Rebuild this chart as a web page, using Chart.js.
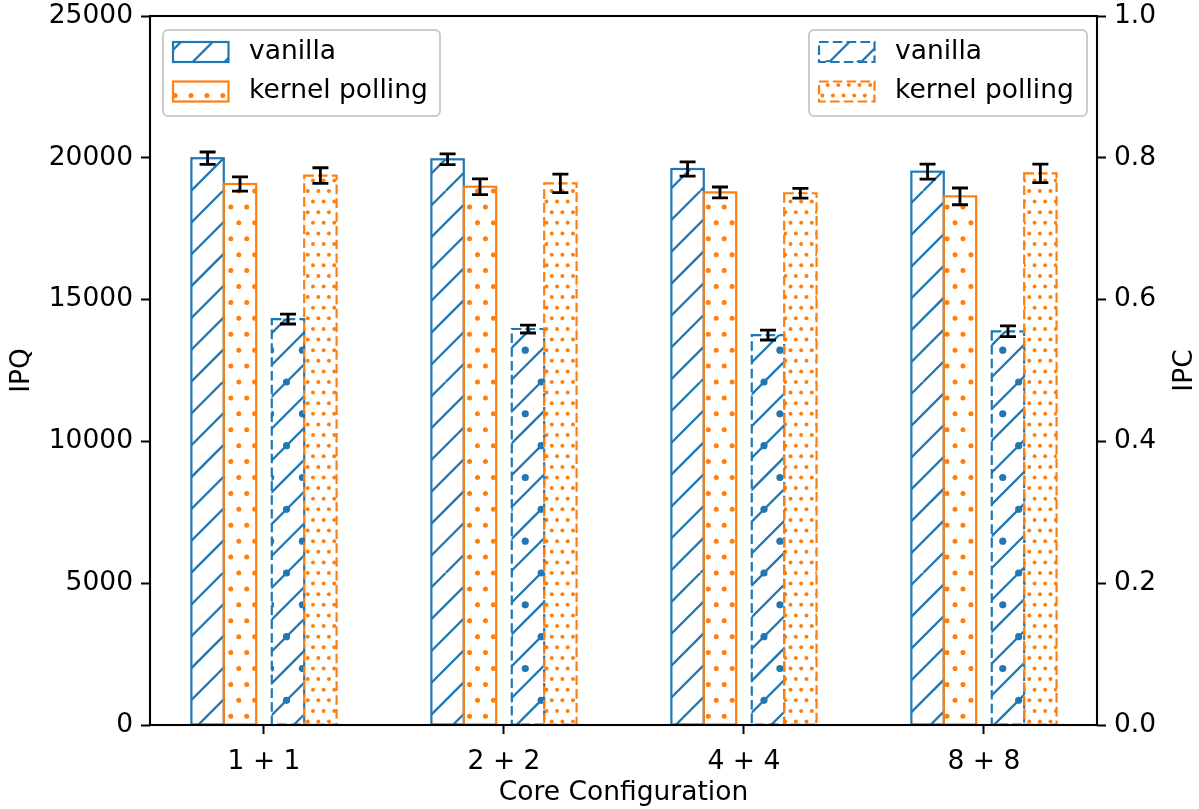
<!DOCTYPE html>
<html lang="en">
<head>
<meta charset="UTF-8">
<title>IPQ / IPC per core configuration</title>
<script src="https://cdn.jsdelivr.net/npm/chart.js"></script>
<style>
    body { margin: 0; background: #fff; }
    #wrap { width: 1199px; height: 809px; }
</style>
</head>
<body>
<div id="wrap"><canvas id="chart" width="1199" height="809"></canvas></div>
<script>
// data
const categories = ['1 + 1', '2 + 2', '4 + 4', '8 + 8'];
const ipqVanilla = [19985, 19947, 19605, 19510];
const ipqVanillaErr = [220, 190, 250, 265];
const ipqPolling = [19076, 18980, 18780, 18640];
const ipqPollingErr = [250, 280, 190, 295];
const ipcVanilla = [0.5726, 0.5585, 0.550, 0.5553];
const ipcVanillaErr = [0.007, 0.0056, 0.007, 0.0075];
const ipcPolling = [0.775, 0.764, 0.750, 0.778];
const ipcPollingErr = [0.011, 0.013, 0.007, 0.013];
const ipqTicks = [0, 5000, 10000, 15000, 20000, 25000];
const ipcTicks = [0, 0.2, 0.4, 0.6, 0.8, 1.0];
const legendLabels = ['vanilla', 'kernel polling'];

const BLUE = '#1f77b4';
const ORANGE = '#ff7f0e';
const FONT = { family: 'DejaVu Sans', size: 26.5 };
const W = 0.135; // bar width in category units

const canvas = document.getElementById('chart');
const ctx = canvas.getContext('2d');

// matplotlib-like hatch: one tile = one hatch unit (~1 inch at this dpi)
const U = 191;
function hatch(color, lines, dotRows, dotR) {
    const c = document.createElement('canvas');
    c.width = U; c.height = U;
    const g = c.getContext('2d');
    g.strokeStyle = color;
    g.fillStyle = color;
    g.lineWidth = 2.3;
    for (let k = -lines; k <= lines && lines; k++) {
        const x = k * U / lines;
        g.beginPath(); g.moveTo(x, U); g.lineTo(x + U, 0); g.stroke();
    }
    if (dotRows) {
        const s = U / dotRows;
        for (let r = 0; r <= dotRows; r++) {
            for (let k = -1; k <= dotRows + 1; k++) {
                const x = k * s + (r % 2 ? s / 2 : 0);
                g.beginPath(); g.arc(x, U - r * s, dotR, 0, Math.PI * 2); g.fill();
            }
        }
    }
    return ctx.createPattern(c, 'repeat');
}

const patVanilla = hatch(BLUE, 6, 0, 0);
const patPolling = hatch(ORANGE, 0, 12, 2.5);
const patVanillaIpc = hatch(BLUE, 6, 6, 3.6);
const patPollingIpc = hatch(ORANGE, 0, 18, 2.0);

const offsets = [-0.1 - W, -0.1, 0.1, 0.1 + W];
function pts(values, off) {
    return values.map((v, i) => ({ x: i + off, y: v }));
}

const series = [
    { vals: ipqVanilla, err: ipqVanillaErr, axis: 'y', color: BLUE, pat: patVanilla, dashed: false },
    { vals: ipqPolling, err: ipqPollingErr, axis: 'y', color: ORANGE, pat: patPolling, dashed: false },
    { vals: ipcVanilla, err: ipcVanillaErr, axis: 'y1', color: BLUE, pat: patVanillaIpc, dashed: true },
    { vals: ipcPolling, err: ipcPollingErr, axis: 'y1', color: ORANGE, pat: patPollingIpc, dashed: true }
];

const DASH = [9.6, 4.2];

// bar edges, error bars, frame, right axis title and the two legends
const decorations = {
    id: 'decorations',
    afterDatasetsDraw(chart) {
        const c = chart.ctx;
        const area = chart.chartArea;
        c.save();
        c.beginPath();
        c.rect(area.left, area.top, area.right - area.left, area.bottom - area.top);
        c.clip();
        series.forEach((s, di) => {
            const meta = chart.getDatasetMeta(di);
            meta.data.forEach(el => {
                c.strokeStyle = s.color;
                c.lineWidth = 2.2;
                c.setLineDash(s.dashed ? DASH : []);
                c.strokeRect(el.x - el.width / 2, el.y, el.width, el.base - el.y);
            });
        });
        c.setLineDash([]);
        series.forEach((s, di) => {
            const meta = chart.getDatasetMeta(di);
            const scale = chart.scales[s.axis];
            meta.data.forEach((el, i) => {
                const y1 = scale.getPixelForValue(s.vals[i] + s.err[i]);
                const y2 = scale.getPixelForValue(s.vals[i] - s.err[i]);
                c.strokeStyle = '#000';
                c.lineWidth = 2.8;
                c.beginPath();
                c.moveTo(el.x, y1); c.lineTo(el.x, y2);
                c.moveTo(el.x - 8, y1); c.lineTo(el.x + 8, y1);
                c.moveTo(el.x - 8, y2); c.lineTo(el.x + 8, y2);
                c.stroke();
            });
        });
        c.restore();

        c.save();
        c.strokeStyle = '#000';
        c.lineWidth = 2.1;
        c.strokeRect(area.left, area.top, area.right - area.left, area.bottom - area.top);
        // right axis title reads bottom-to-top like the left one
        c.translate(1185, (area.top + area.bottom) / 2);
        c.rotate(-Math.PI / 2);
        c.fillStyle = '#000';
        c.font = FONT.size + 'px "DejaVu Sans"';
        c.textAlign = 'center';
        c.textBaseline = 'middle';
        c.fillText('IPC', 0, 0);
        c.restore();

        drawLegend(c, 163, 30, 277, 86, [series[0], series[1]]);
        drawLegend(c, 809, 30, 278, 86, [series[2], series[3]]);
    }
};

function drawLegend(c, x, y, w, h, items) {
    c.save();
    c.beginPath();
    c.roundRect(x, y, w, h, 5);
    c.fillStyle = 'rgba(255,255,255,0.8)';
    c.fill();
    c.strokeStyle = '#cccccc';
    c.lineWidth = 2;
    c.stroke();
    items.forEach((s, i) => {
        const py = y + 12 + i * 39.5;
        c.fillStyle = '#fff';
        c.fillRect(x + 10, py, 55.5, 20);
        c.fillStyle = s.pat;
        c.fillRect(x + 10, py, 55.5, 20);
        c.strokeStyle = s.color;
        c.lineWidth = 2.2;
        c.setLineDash(s.dashed ? DASH : []);
        c.strokeRect(x + 10, py, 55.5, 20);
        c.setLineDash([]);
        c.fillStyle = '#000';
        c.font = FONT.size + 'px "DejaVu Sans"';
        c.textBaseline = 'middle';
        c.fillText(legendLabels[i], x + 86, py + 10);
    });
    c.restore();
}

// let the layout padding alone decide where the plot area starts
function fixVertical(width) {
    return s => {
        s.width = width;
        s.paddingTop = 0;
        s.paddingBottom = 0;
    };
}

new Chart(ctx, {
    type: 'bar',
    data: {
        datasets: series.map((s, di) => ({
            label: legendLabels[di % 2],
            data: pts(s.vals, offsets[di]),
            yAxisID: s.axis,
            backgroundColor: s.pat,
            borderWidth: 0,
            grouped: false,
            barThickness: 32.4
        }))
    },
    options: {
        responsive: false,
        animation: false,
        devicePixelRatio: 1,
        layout: { padding: { top: 16, left: 0, right: 0, bottom: 0 } },
        plugins: {
            legend: { display: false },
            tooltip: { enabled: false }
        },
        scales: {
            x: {
                type: 'linear',
                offset: false,
                min: -0.475,
                max: 3.471,
                afterBuildTicks: a => { a.ticks = categories.map((_, i) => ({ value: i })); },
                ticks: {
                    callback: v => categories[v],
                    font: FONT, color: '#000', padding: 12,
                    maxRotation: 0, autoSkip: false
                },
                grid: { offset: false, drawOnChartArea: false, tickLength: 9, tickWidth: 2, tickColor: '#000' },
                border: { display: false },
                title: { display: true, text: 'Core Configuration', font: FONT, color: '#000', padding: { top: 0, bottom: 0 } },
                afterFit: s => { s.height = 84; s.paddingLeft = 0; s.paddingRight = 0; }
            },
            y: {
                position: 'left',
                min: 0, max: 25000,
                afterBuildTicks: a => { a.ticks = ipqTicks.map(v => ({ value: v })); },
                ticks: { callback: v => String(v), font: FONT, color: '#000', padding: 8 },
                grid: { drawOnChartArea: false, tickLength: 9, tickWidth: 2, tickColor: '#000' },
                border: { display: false },
                title: { display: true, text: 'IPQ', font: FONT, color: '#000', padding: { top: 6, bottom: 0 } },
                afterFit: fixVertical(150)
            },
            y1: {
                position: 'right',
                min: 0, max: 1,
                afterBuildTicks: a => { a.ticks = ipcTicks.map(v => ({ value: v })); },
                ticks: { callback: v => v.toFixed(1), font: FONT, color: '#000', padding: 8 },
                grid: { drawOnChartArea: false, tickLength: 9, tickWidth: 2, tickColor: '#000' },
                border: { display: false },
                title: { display: false },
                afterFit: fixVertical(102)
            }
        }
    },
    plugins: [decorations]
});
</script>
</body>
</html>
